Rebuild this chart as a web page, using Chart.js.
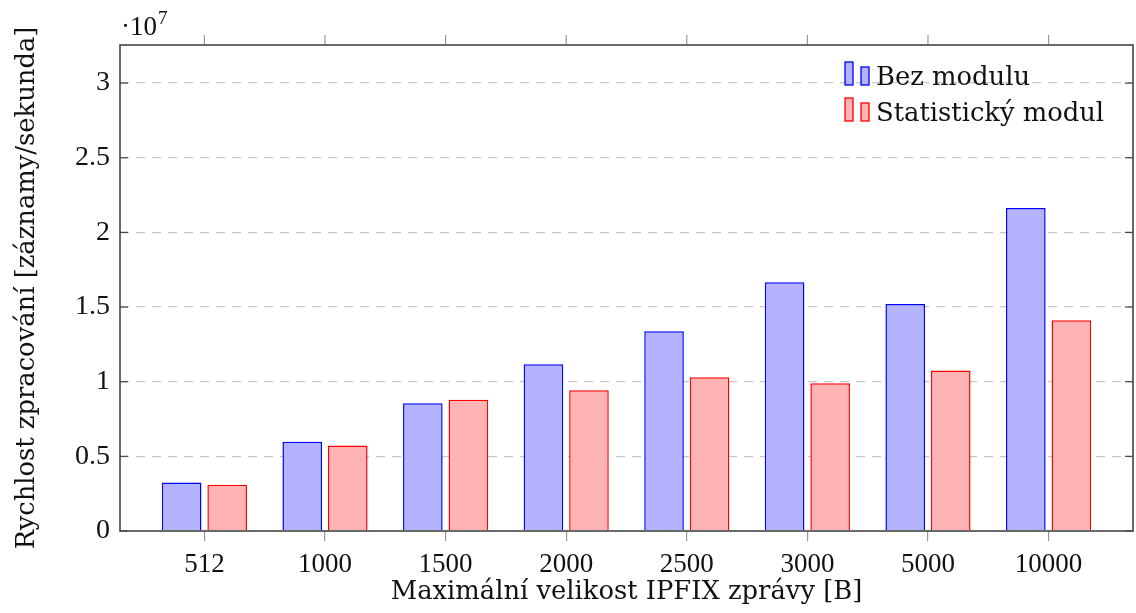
<!DOCTYPE html>
<html><head><meta charset="utf-8">
<script src="https://cdn.jsdelivr.net/npm/chart.js@4"></script>
<style>html,body{margin:0;padding:0;background:#fff}#wrap{width:1136px;height:613px;position:relative}</style>
</head><body><div id="wrap"><canvas id="c"></canvas></div>
<script>
const categories = ['512', '1000', '1500', '2000', '2500', '3000', '5000', '10000'];
const bezModulu = [3.24e6, 5.98e6, 8.56e6, 11.17e6, 13.38e6, 16.66e6, 15.21e6, 21.63e6];
const statistickyModul = [3.10e6, 5.73e6, 8.79e6, 9.43e6, 10.30e6, 9.90e6, 10.75e6, 14.11e6];
const yTicks = [0, 0.5e7, 1e7, 1.5e7, 2e7, 2.5e7, 3e7];
const seriesNames = ['Bez modulu', 'Statistický modul'];
const xTitle = 'Maximální velikost IPFIX zprávy [B]';
const yTitle = 'Rychlost zpracování [záznamy/sekunda]';

const NUMFONT = '"Liberation Serif", serif';
const TXTFONT = '"DejaVu Serif", serif';
const FS = 28;
const TS = 25.8;
const blueStroke = 'rgb(0,0,255)', blueFill = 'rgb(179,179,255)';
const redStroke = 'rgb(255,0,0)', redFill = 'rgb(255,179,179)';
const axisColor = '#444';

const toPts = arr => arr.map((v, i) => ({x: i, y: v}));

const framePlugin = {
  id: 'frame',
  afterDatasetsDraw(chart) {
    const {ctx, chartArea: a, scales} = chart;
    const xs = scales.x, ys = scales.y;
    ctx.save();
    ctx.strokeStyle = axisColor; ctx.lineWidth = 1.2;
    yTicks.forEach(v => {
      const y = ys.getPixelForValue(v);
      ctx.beginPath(); ctx.moveTo(a.left, y); ctx.lineTo(a.left + 8, y); ctx.stroke();
      ctx.beginPath(); ctx.moveTo(a.right, y); ctx.lineTo(a.right - 8, y); ctx.stroke();
    });
    ctx.strokeStyle = '#999'; ctx.lineWidth = 1.2;
    categories.forEach((c, i) => {
      const x = xs.getPixelForValue(i);
      ctx.beginPath(); ctx.moveTo(x, a.top); ctx.lineTo(x, a.top - 10); ctx.stroke();
    });
    ctx.strokeStyle = axisColor; ctx.lineWidth = 1.6;
    ctx.strokeRect(a.left, a.top, a.right - a.left, a.bottom - a.top);
    ctx.fillStyle = '#111';
    ctx.textBaseline = 'alphabetic'; ctx.textAlign = 'left';
    ctx.font = '27px ' + NUMFONT;
    const base = a.top - 10;
    ctx.fillText('·10', a.left + 1, base);
    const w = ctx.measureText('·10').width;
    ctx.font = '19px ' + NUMFONT;
    ctx.fillText('7', a.left + 1 + w + 1, base - 11);
    const lx = 845, ly = [85, 121];
    const cols = [[blueFill, blueStroke], [redFill, redStroke]];
    seriesNames.forEach((name, k) => {
      const yb = ly[k];
      ctx.fillStyle = cols[k][0]; ctx.strokeStyle = cols[k][1]; ctx.lineWidth = 1.3;
      ctx.fillRect(lx, yb - 23, 8, 23); ctx.strokeRect(lx, yb - 23, 8, 23);
      ctx.fillRect(lx + 16, yb - 18, 8, 18); ctx.strokeRect(lx + 16, yb - 18, 8, 18);
      ctx.fillStyle = '#111';
      ctx.font = TS + 'px ' + TXTFONT;
      ctx.fillText(name, lx + 31, yb);
    });
    ctx.restore();
  }
};

new Chart(document.getElementById('c'), {
  type: 'bar',
  data: {
    datasets: [
      {label: seriesNames[0], data: toPts(bezModulu), backgroundColor: blueFill, borderColor: blueStroke, borderWidth: 1.5},
      {label: seriesNames[1], data: toPts(statistickyModul), backgroundColor: redFill, borderColor: redStroke, borderWidth: 1.5}
    ]
  },
  options: {
    responsive: true, maintainAspectRatio: false, animation: false,
    categoryPercentage: 0.755, barPercentage: 0.87,
    layout: {padding: {left: 0, right: 3, top: 45, bottom: 0}},
    plugins: {legend: {display: false}, tooltip: {enabled: false}},
    scales: {
      x: {
        type: 'linear', min: -0.7, max: 7.7, offset: false,
        afterBuildTicks: s => { s.ticks = categories.map((c, i) => ({value: i})); },
        afterFit: s => { s.height = 82; },
        ticks: {callback: v => categories[v], color: '#111', font: {family: NUMFONT, size: 27}, padding: 8, maxRotation: 0, autoSkip: false},
        grid: {offset: false, drawOnChartArea: false, drawTicks: true, tickLength: 10, color: '#999', lineWidth: 1.2},
        border: {display: false},
        title: {display: true, text: xTitle, color: '#111', font: {family: TXTFONT, size: TS}, padding: {top: 0, bottom: 5}}
      },
      y: {
        min: 0, max: 3.255e7,
        afterBuildTicks: s => { s.ticks = yTicks.map(v => ({value: v})); },
        afterFit: s => { s.width = 120; },
        ticks: {callback: v => String(+(v / 1e7).toFixed(2)), color: '#111', font: {family: NUMFONT, size: FS}, padding: 10},
        grid: {drawTicks: false, color: c => c.tick && c.tick.value === 0 ? 'rgba(0,0,0,0)' : '#c8c8c8', lineWidth: 1.3},
        border: {display: false, dash: [9, 7]},
        title: {display: true, text: yTitle, color: '#111', font: {family: TXTFONT, size: TS}, padding: {top: 12, bottom: 4}}
      }
    }
  },
  plugins: [framePlugin]
});
</script></body></html>
